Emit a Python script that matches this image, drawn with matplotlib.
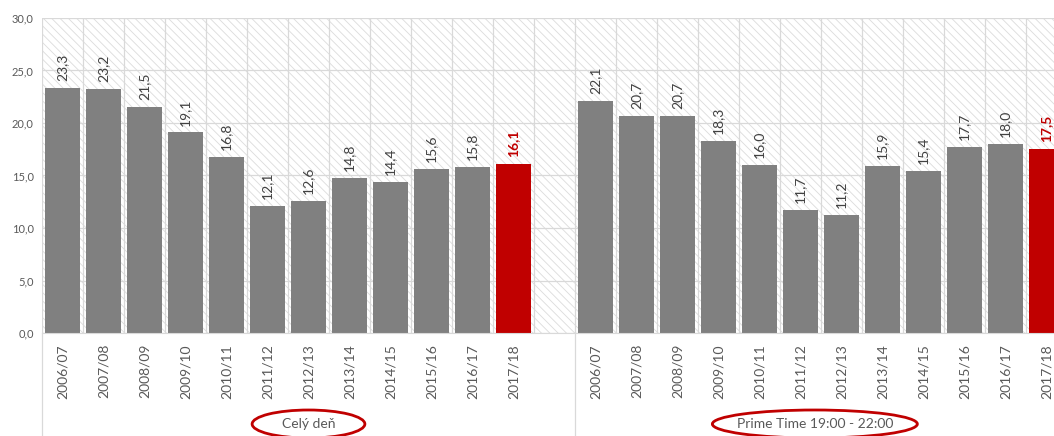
import numpy as np
import matplotlib
matplotlib.use('Agg')
import matplotlib.pyplot as plt
import matplotlib.transforms as mtransforms
from matplotlib.patches import Rectangle, Ellipse

plt.rcParams['font.family'] = ['Lato', 'DejaVu Sans']
plt.rcParams['hatch.linewidth'] = 0.6

# Datos del gráfico
sezony = ['2006/07', '2007/08', '2008/09', '2009/10', '2010/11', '2011/12',
          '2012/13', '2013/14', '2014/15', '2015/16', '2016/17', '2017/18']
cely_den = [23.3, 23.2, 21.5, 19.1, 16.8, 12.1, 12.6, 14.8, 14.4, 15.6, 15.8, 16.1]
prime_time = [22.1, 20.7, 20.7, 18.3, 16.0, 11.7, 11.2, 15.9, 15.4, 17.7, 18.0, 17.5]
skupiny = ['Celý deň', 'Prime Time 19:00 - 22:00']
y_ticks = [0, 5, 10, 15, 20, 25, 30]

GRIS = '#808080'
ROJO = '#C00000'
TEXTO = '#595959'
REJILLA = '#d9d9d9'

n = len(sezony)
x1 = np.arange(n)                 # primer grupo
x2 = np.arange(n) + n + 1         # segundo grupo (con un hueco)
total = 2 * n + 1

fig = plt.figure(figsize=(10.54, 4.36), dpi=100)
W, H = 1054, 436
ax = fig.add_axes([42 / W, 103 / H, (41 * total) / W, 315 / H])

# fondo rayado
fondo = Rectangle((0, 0), 1, 1, transform=ax.transAxes, facecolor='white',
                  edgecolor='#dcdcdc', linewidth=0, hatch='\\\\\\\\', zorder=0)
ax.add_patch(fondo)
ax.set_facecolor('white')

# rejilla
for yv in y_ticks:
    ax.axhline(yv, color=REJILLA, lw=0.9, zorder=1)
for xv in np.arange(total + 1) - 0.5:
    ax.axvline(xv, color=REJILLA, lw=0.9, zorder=1)

for xs, vals in [(x1, cely_den), (x2, prime_time)]:
    colores = [GRIS] * (n - 1) + [ROJO]
    ax.bar(xs, vals, width=0.84, color=colores, zorder=2)
    for i, (xx, v) in enumerate(zip(xs, vals)):
        ultimo = i == n - 1
        ax.annotate(f'{v:.1f}'.replace('.', ','), (xx, v), xytext=(0, 5),
                    textcoords='offset points', ha='center', va='bottom',
                    rotation=90, fontsize=10,
                    color=ROJO if ultimo else '#404040',
                    fontweight='bold' if ultimo else 'normal', zorder=3)

ax.set_xlim(-0.5, total - 0.5)
ax.set_ylim(0, 30)
ax.set_yticks(y_ticks)
ax.set_yticklabels([f'{v:.1f}'.replace('.', ',') for v in y_ticks])
ax.set_xticks(np.concatenate([x1, x2]))
ax.set_xticklabels(sezony + sezony, rotation=90)
ax.tick_params(axis='x', length=0, pad=8, labelsize=10, colors=TEXTO)
ax.tick_params(axis='y', length=0, pad=6, labelsize=8, colors=TEXTO)
for s in ['top', 'right', 'left']:
    ax.spines[s].set_visible(False)
ax.spines['bottom'].set_color(REJILLA)
ax.spines['bottom'].set_zorder(4)

# separadores de grupos y etiquetas
trans = mtransforms.blended_transform_factory(ax.transData, fig.transFigure)
for xv in [-0.5, n + 0.5]:
    ax.plot([xv, xv], [0, 103 / H], color=REJILLA, lw=0.9, transform=trans,
            clip_on=False)

centros = [(x1[0] + n) / 2, (x2[0] + x2[-1]) / 2 - 0.15]
anchos = [2.75, 5.0]
for nombre, cx, w in zip(skupiny, centros, anchos):
    fig.text(cx, 12 / H, nombre, transform=trans, ha='center', va='center',
             fontsize=10, color=TEXTO)
    fig.patches.append(Ellipse((cx, 12 / H), w, 28 / H, transform=trans,
                               fill=False, edgecolor=ROJO, lw=2))

fig.savefig('out.png', dpi=100)
